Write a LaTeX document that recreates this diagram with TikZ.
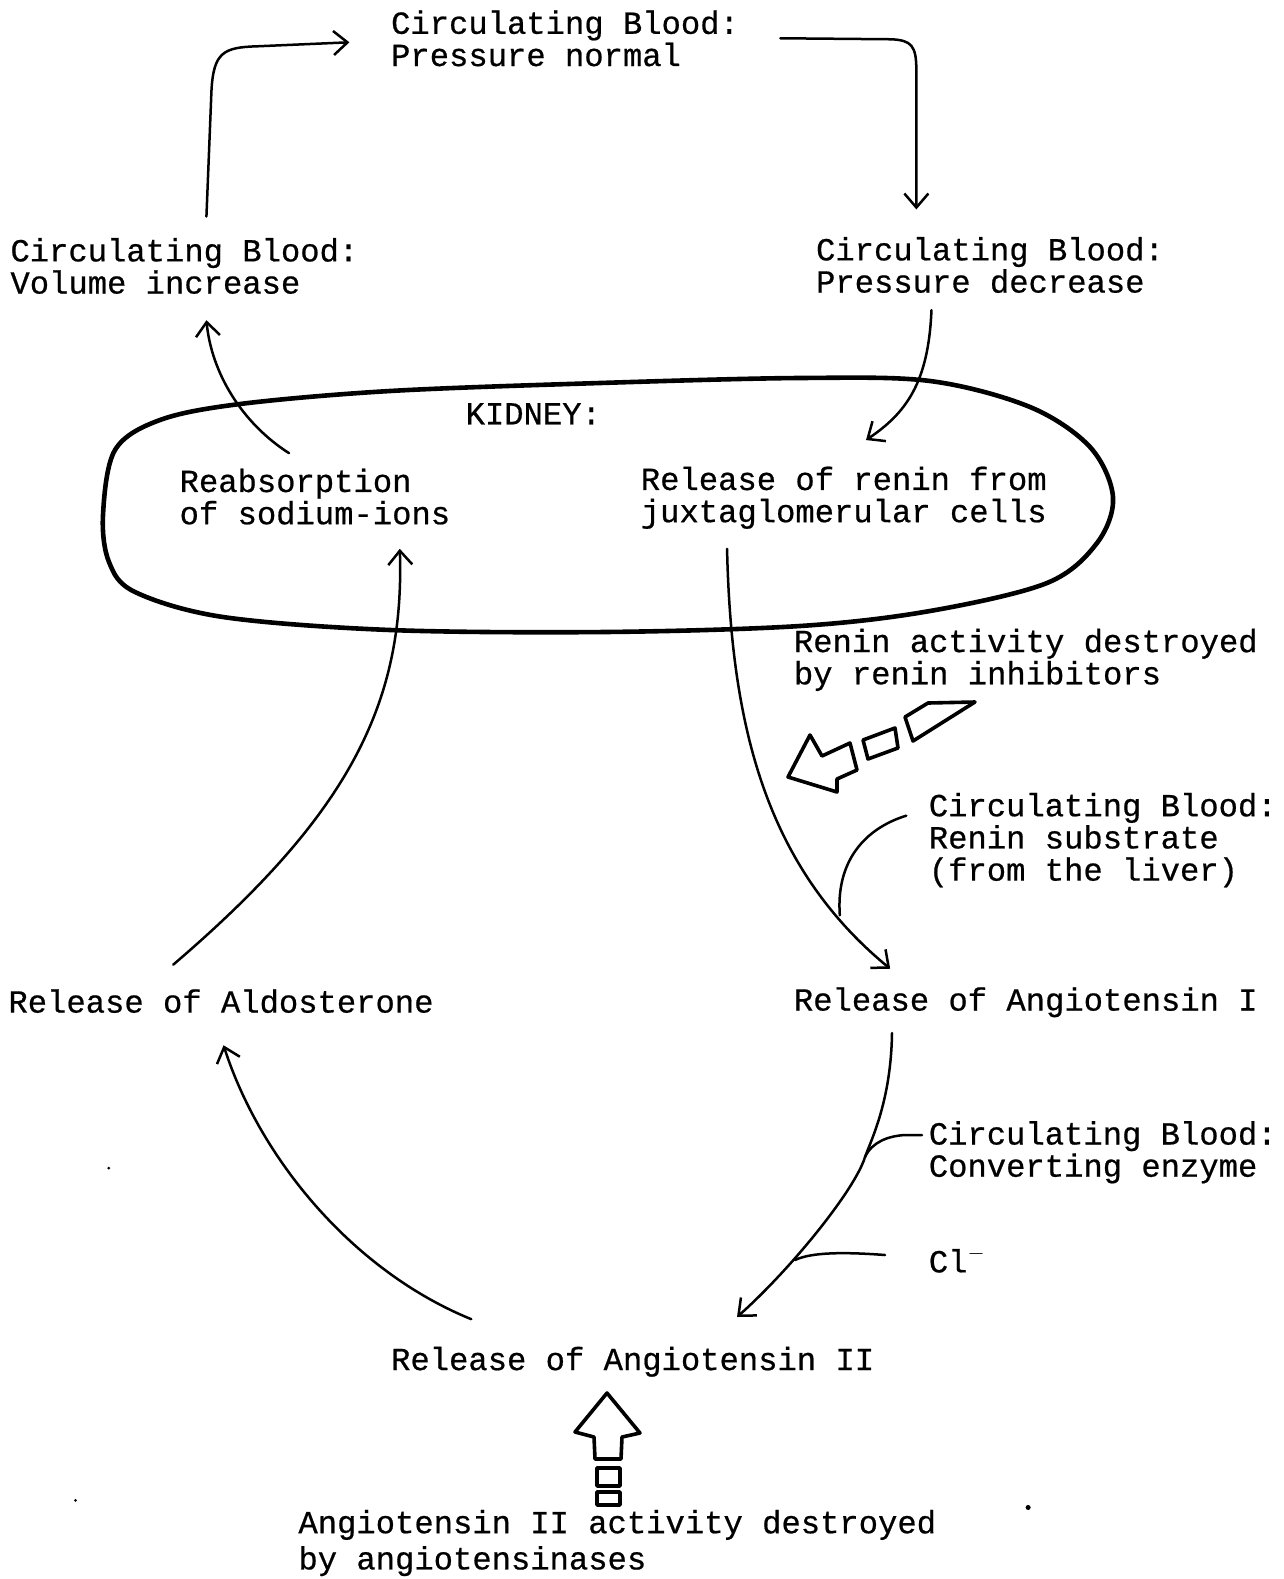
\documentclass[tikz,border=0pt]{standalone}
\usepackage{fontspec}
\setmonofont{Liberation Mono}[FakeBold=0.6]
\usetikzlibrary{arrows.meta}
\begin{document}
\begin{tikzpicture}[x=0.5pt,y=-0.5pt,
  lbl/.style={anchor=north west,inner sep=0pt,align=left,font=\ttfamily\fontsize{16.1}{16.1}\selectfont},
  conn/.style={line width=1.25pt,line cap=round,-{Straight Barb[length=7pt,width=12pt,line width=1.25pt]}},
  feed/.style={line width=1.25pt,line cap=round},
  hollow/.style={line width=1.8pt,line join=round}]
\useasboundingbox (0,0) rectangle (1284,1579);
\begin{scope}[x=0.5035pt,y=-0.5035pt]
% texts
\node[lbl] (pn) at (388,10) {Circulating Blood:\\Pressure normal};
\node[lbl] (vi) at (10,236) {Circulating Blood:\\Volume increase};
\node[lbl] (pd) at (810,235) {Circulating Blood:\\Pressure decrease};
\node[lbl] (kid) at (462,400) {KIDNEY:};
\node[lbl] (reab) at (178,465) {Reabsorption\\of sodium-ions};
\node[lbl] (ren) at (636,463) {Release of renin from\\juxtaglomerular cells};
\node[lbl] (rinh) at (788,624) {Renin activity destroyed\\by renin inhibitors};
\node[lbl] (sub) at (922,787) {Circulating Blood:\\Renin substrate\\(from the liver)};
\node[lbl] (ald) at (8,982) {Release of Aldosterone};
\node[lbl] (a1) at (788,980) {Release of Angiotensin I};
\node[lbl] (ce) at (922,1113) {Circulating Blood:\\Converting enzyme};
\node[lbl] (cl) at (922,1238) {Cl$^{-}$};
\node[lbl] (a2) at (388,1337) {Release of Angiotensin II};
\node[lbl,font=\ttfamily\fontsize{16.1}{18.1}\selectfont] (ase) at (296,1499) {Angiotensin II activity destroyed\\by angiotensinases};
% connectors
\coordinate (c1s) at (205,215);
\coordinate (c1e) at (347,42);
\draw[conn] (c1s) -- (210,90) .. controls (212,52) and (222,47) .. (255,46) -- (c1e);
\coordinate (c2s) at (775,38);
\coordinate (c2e) at (910,208);
\draw[conn] (c2s) -- (885,39) .. controls (905,40) and (910,45) .. (910,70) -- (c2e);
\coordinate (c3s) at (925,308);
\coordinate (c3e) at (860,437);
\draw[conn] (c3s) .. controls (922,380) and (900,410) .. (c3e);
\coordinate (c4s) at (287,450);
\coordinate (c4e) at (205,318);
\draw[conn] (c4s) .. controls (240,420) and (210,370) .. (c4e);
\coordinate (c5s) at (722,545);
\coordinate (c5e) at (884,962);
\draw[conn] (c5s) .. controls (726,720) and (760,860) .. (c5e);
\coordinate (c6s) at (900,810);
\coordinate (c6e) at (834,909);
\draw[feed] (c6s) .. controls (858,823) and (830,856) .. (c6e);
\coordinate (c10s) at (468,1310);
\coordinate (c10e) at (222,1038);
\draw[conn] (c10s) .. controls (350,1262) and (258,1150) .. (c10e);
\coordinate (c11s) at (172,958);
\coordinate (c11e) at (397,545);
\draw[conn] (c11s) .. controls (345,810) and (402,700) .. (c11e);
% stray dots
\fill (108,1160) circle (1.5);
\fill (75,1490) circle (1.5);
\fill (1021,1497) circle (2.5);
\end{scope}
% Angiotensin I -> II (full-scale coordinates)
\coordinate (c7s) at (892,1033);
\coordinate (ej) at (865,1157);
\coordinate (clj) at (795,1260);
\coordinate (c7e) at (737,1317);
\draw[conn] (c7s) .. controls (891,1100) and (872,1138) .. (ej) .. controls (855,1190) and (790,1270) .. (c7e);
\coordinate (c8s) at (922,1135);
\draw[feed] (c8s) -- (905,1135) .. controls (888,1136) and (872,1142) .. (ej);
\coordinate (c9s) at (885,1255);
\draw[feed] (c9s) .. controls (845,1252) and (812,1252) .. (clj);
% kidney outline
\draw[line width=2.3pt] plot[smooth cycle,tension=0.55] coordinates {
 (103,515) (109,562) (135,592) (223,617) (390,630) (605,632) (800,626) (930,611)
 (1047,583) (1097,543) (1113,497) (1090,447) (1030,407) (930,381) (800,378)
 (600,383) (390,391) (240,404) (160,420) (115,450)};
% hollow arrow: renin inhibitors
\draw[hollow] (788,777) -- (810,735) -- (822,756) -- (850,743) -- (857,770) -- (837,779) -- (837,792) -- cycle;
\draw[hollow] (863,740) -- (895,728) -- (898,748) -- (868,759) -- cycle;
\draw[hollow] (905,717) -- (928,703) -- (975,702) -- (913,741) -- cycle;
% hollow arrow: angiotensinases
\draw[hollow] (607,1393) -- (640,1433) -- (622,1437) -- (621,1459) -- (595,1459) -- (594,1437) -- (575,1432) -- cycle;
\draw[hollow] (597,1468) rectangle (620,1486);
\draw[hollow] (597,1492) rectangle (620,1505);
\end{tikzpicture}
\end{document}
